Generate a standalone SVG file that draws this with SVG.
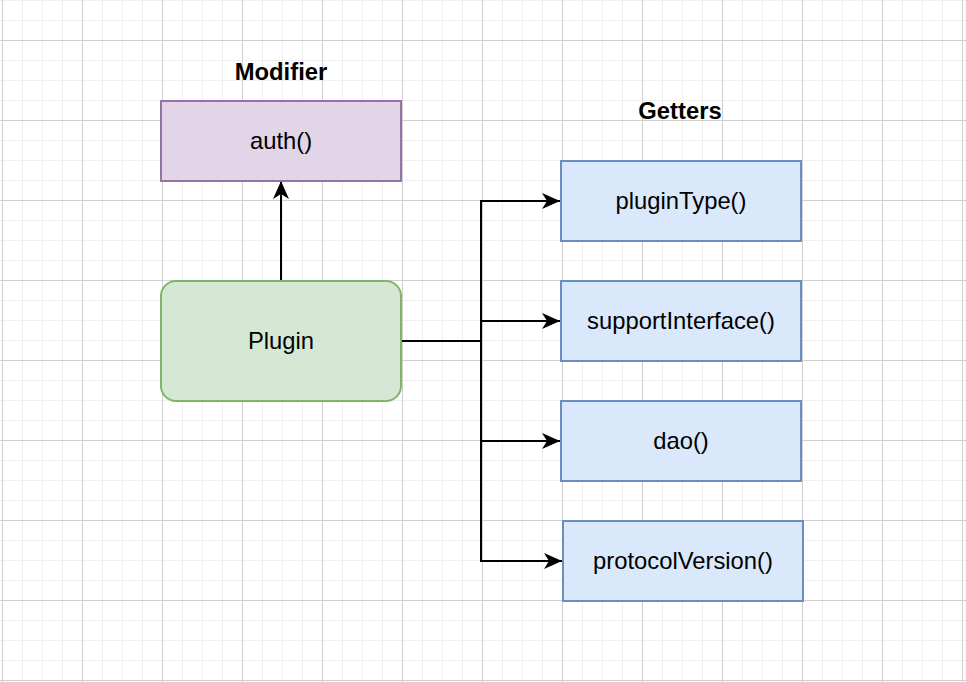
<svg xmlns="http://www.w3.org/2000/svg" width="966" height="682" viewBox="0 0 966 682">
  <defs>
    <pattern id="minor" patternUnits="userSpaceOnUse" x="2" y="0" width="20" height="20">
      <rect x="0" y="0" width="1" height="20" fill="#f0f0f0"/>
      <rect x="0" y="0" width="20" height="1" fill="#f0f0f0"/>
    </pattern>
    <pattern id="major" patternUnits="userSpaceOnUse" x="2" y="40" width="80" height="80">
      <rect x="0" y="0" width="1" height="80" fill="#d0d0d0"/>
      <rect x="0" y="0" width="80" height="1" fill="#d0d0d0"/>
    </pattern>
    <marker id="arrow" viewBox="0 0 18 16" refX="18" refY="8" markerWidth="18" markerHeight="16" markerUnits="userSpaceOnUse" orient="auto">
      <path d="M0,0 L18,8 L0,16 L5,8 Z" fill="#000"/>
    </marker>
  </defs>
  <style>
    .lbl { font-family: "Liberation Sans", Arial, Helvetica, sans-serif; font-size: 23.8px; fill: #000; text-anchor: middle; }
    .title { font-weight: bold; }
    .getter rect { fill: #dae8fc; stroke: #6c8ebf; stroke-width: 2; }
    .conn { fill: none; stroke: #000; stroke-width: 2; }
  </style>
  <rect width="966" height="682" fill="#ffffff"/>
  <rect width="966" height="682" fill="url(#minor)"/>
  <rect width="966" height="682" fill="url(#major)"/>

  <text class="lbl title" x="281" y="80">Modifier</text>
  <text class="lbl title" x="680" y="119">Getters</text>

  <g id="connectors">
    <path class="conn" d="M281,281 L281,181" marker-end="url(#arrow)"/>
    <path class="conn" d="M401,341 L481,341 L481,201 L560,201" marker-end="url(#arrow)"/>
    <path class="conn" d="M481,341 L481,321 L560,321" marker-end="url(#arrow)"/>
    <path class="conn" d="M481,341 L481,441 L560,441" marker-end="url(#arrow)"/>
    <path class="conn" d="M481,341 L481,561 L562,561" marker-end="url(#arrow)"/>
  </g>

  <g id="auth">
    <rect x="161" y="101" width="240" height="80" fill="#e1d5e7" stroke="#9673a6" stroke-width="2"/>
    <text class="lbl" x="281" y="149">auth()</text>
  </g>
  <g id="plugin">
    <rect x="161" y="281" width="240" height="120" rx="15" ry="15" fill="#d5e8d4" stroke="#82b366" stroke-width="2"/>
    <text class="lbl" x="281" y="349">Plugin</text>
  </g>
  <g id="pluginType" class="getter">
    <rect x="561" y="161" width="240" height="80"/>
    <text class="lbl" x="681" y="209">pluginType()</text>
  </g>
  <g id="supportInterface" class="getter">
    <rect x="561" y="281" width="240" height="80"/>
    <text class="lbl" x="681" y="329">supportInterface()</text>
  </g>
  <g id="dao" class="getter">
    <rect x="561" y="401" width="240" height="80"/>
    <text class="lbl" x="681" y="449">dao()</text>
  </g>
  <g id="protocolVersion" class="getter">
    <rect x="563" y="521" width="240" height="80"/>
    <text class="lbl" x="683" y="569">protocolVersion()</text>
  </g>
</svg>
